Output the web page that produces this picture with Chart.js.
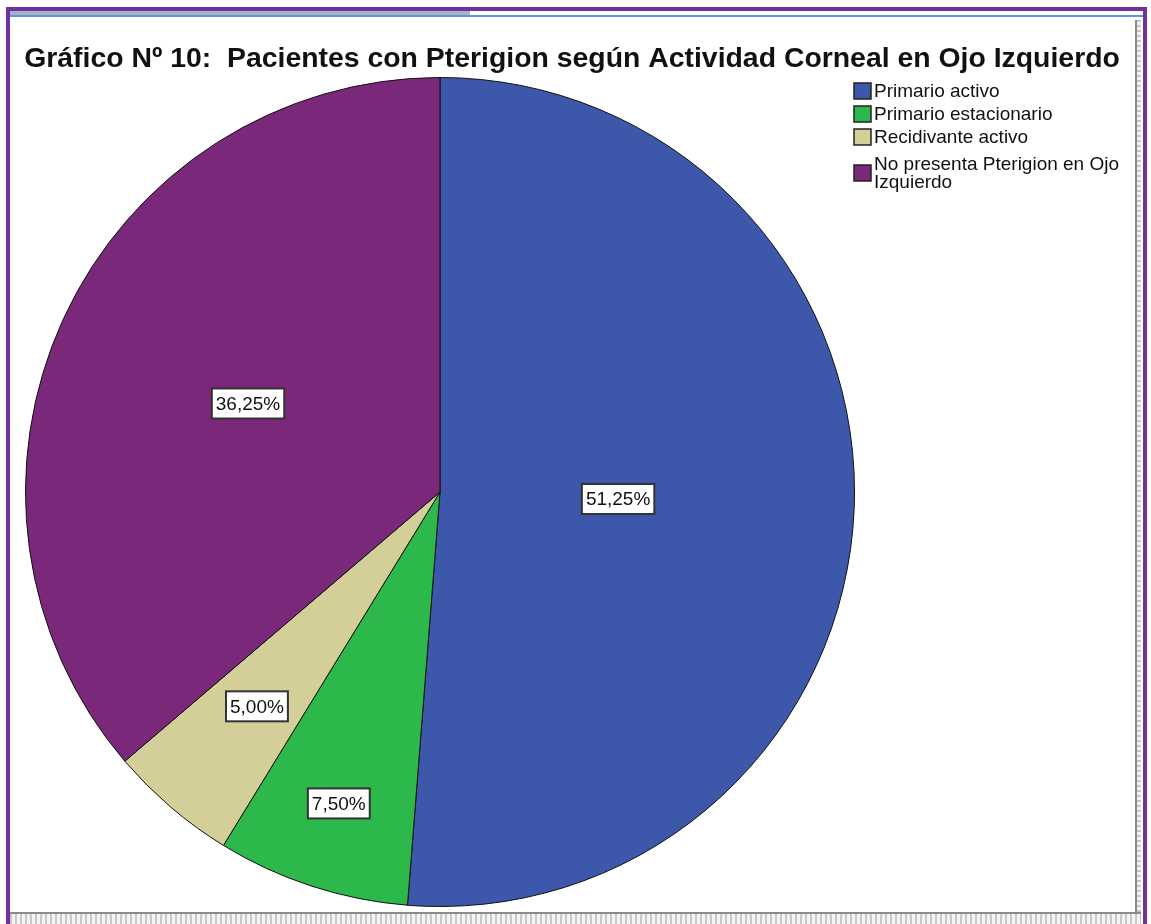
<!DOCTYPE html>
<html>
<head>
<meta charset="utf-8">
<script src="https://cdn.jsdelivr.net/npm/chart.js@4/dist/chart.umd.min.js"></script>
<style>
  html, body { margin: 0; padding: 0; background: #fff; }
  body { width: 1151px; height: 924px; position: relative; overflow: hidden; font-family: Arial, "Liberation Sans", sans-serif; }
  .frame { position: absolute; left: 6px; top: 7px; width: 1133px; height: 930px; border: 4px solid #7030a0; border-bottom: none; }
  .strip { position: absolute; left: 10px; top: 11px; width: 1133px; height: 6px; background: #fff; border-bottom: 2px solid #5b9bd5; box-sizing: border-box; }
  .strip .grey { position: absolute; left: 0; top: 0; width: 460px; height: 4px; background: #a9b3c6; }
  .rside { position: absolute; left: 1135px; top: 20px; width: 6px; height: 904px; border-left: 2px solid #8a8a8a; box-sizing: border-box;
           background: repeating-linear-gradient(180deg, #c8c8c8 0 2px, #f4f4f4 2px 5px); }
  .bside { position: absolute; left: 10px; top: 912px; width: 1131px; height: 12px; border-top: 2px solid #8a8a8a; box-sizing: border-box;
           background: repeating-linear-gradient(90deg, #c8c8c8 0 2px, #f4f4f4 2px 5px); }
  #wrap { position: absolute; left: 10px; top: 17px; width: 1125px; height: 895px; }
</style>
</head>
<body>
<div class="frame"></div>
<div class="strip"><div class="grey"></div></div>
<div class="rside"></div>
<div class="bside"></div>
<div id="wrap"><canvas id="chart"></canvas></div>
<script>
// data
const categories = ['Primario activo', 'Primario estacionario', 'Recidivante activo', 'No presenta Pterigion en Ojo Izquierdo'];
const legendLines = [['Primario activo'], ['Primario estacionario'], ['Recidivante activo'], ['No presenta Pterigion en Ojo', 'Izquierdo']];
const percentages = [51.25, 7.50, 5.00, 36.25];
const sliceColors = ['#3d57aa', '#2db84b', '#d4cf99', '#7a287a'];

const chartTitle = 'Gráfico Nº 10:  Pacientes con Pterigion según Actividad Corneal en Ojo Izquierdo';

// how far out (fraction of radius) each percent box sits
const labelRadius = [0.43, 0.79, 0.68, 0.51];

const FONT = 'Arial, "Liberation Sans", sans-serif';
const fmt = v => v.toFixed(2).replace('.', ',') + '%';

// the built-in title gets squeezed into the pie's width (layout padding),
// so it is drawn here across the whole canvas instead
const wideTitle = {
  id: 'wideTitle',
  afterDraw(chart) {
    const ctx = chart.ctx;
    ctx.save();
    ctx.font = 'bold 24px ' + FONT;
    const size = 24 * 1097 / ctx.measureText(chartTitle).width;
    ctx.font = 'bold ' + size.toFixed(1) + 'px ' + FONT;
    ctx.fillStyle = '#111';
    ctx.textAlign = 'center';
    ctx.textBaseline = 'middle';
    ctx.fillText(chartTitle, 562, 42);
    ctx.restore();
  }
};

const boxLabels = {
  id: 'boxLabels',
  afterDatasetsDraw(chart) {
    const ctx = chart.ctx;
    const meta = chart.getDatasetMeta(0);
    ctx.save();
    ctx.font = '19px ' + FONT;
    ctx.textAlign = 'center';
    ctx.textBaseline = 'middle';
    meta.data.forEach((arc, i) => {
      const mid = (arc.startAngle + arc.endAngle) / 2;
      const r = arc.outerRadius * labelRadius[i];
      const x = arc.x + Math.cos(mid) * r;
      const y = arc.y + Math.sin(mid) * r;
      const txt = fmt(percentages[i]);
      const w = ctx.measureText(txt).width + 8;
      const h = 30;
      ctx.fillStyle = '#fff';
      ctx.fillRect(x - w / 2, y - h / 2, w, h);
      ctx.lineWidth = 2;
      ctx.strokeStyle = '#333';
      ctx.strokeRect(x - w / 2, y - h / 2, w, h);
      ctx.fillStyle = '#111';
      ctx.fillText(txt, x, y + 1);
    });
    ctx.restore();
  }
};

const sideLegend = {
  id: 'sideLegend',
  afterDraw(chart) {
    const ctx = chart.ctx;
    const x0 = chart.chartArea.right - 2;
    let y = chart.chartArea.top + 6;
    ctx.save();
    ctx.font = '19px ' + FONT;
    ctx.textBaseline = 'middle';
    legendLines.forEach((lines, i) => {
      const extra = lines.length > 1 ? 4 : 0;
      const boxY = y + extra + (lines.length - 1) * 9;
      ctx.fillStyle = sliceColors[i];
      ctx.fillRect(x0, boxY, 17, 16);
      ctx.lineWidth = 1.5;
      ctx.strokeStyle = '#222';
      ctx.strokeRect(x0, boxY, 17, 16);
      ctx.fillStyle = '#111';
      lines.forEach((ln, k) => ctx.fillText(ln, x0 + 20, y + extra + 9 + k * 18));
      y += 23 + (lines.length - 1) * 18 + extra;
    });
    ctx.restore();
  }
};

new Chart(document.getElementById('chart'), {
  type: 'pie',
  data: {
    labels: categories,
    datasets: [{
      data: percentages,
      backgroundColor: sliceColors,
      borderColor: '#111',
      borderWidth: 1
    }]
  },
  options: {
    responsive: true,
    maintainAspectRatio: false,
    animation: false,
    layout: { padding: { left: 14, right: 279, top: 60, bottom: 5 } },
    plugins: {
      legend: { display: false },
      tooltip: { enabled: false },
      title: { display: false }
    }
  },
  plugins: [boxLabels, sideLegend, wideTitle]
});
</script>
</body>
</html>
